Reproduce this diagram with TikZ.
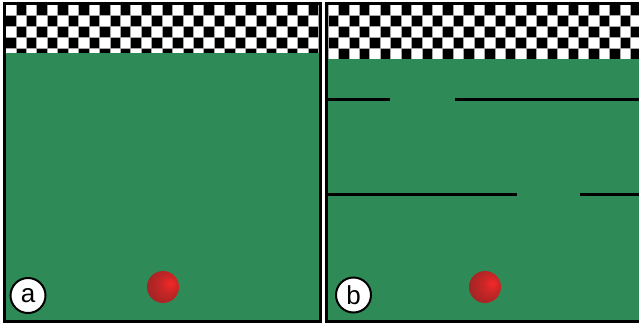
\documentclass[tikz,border=0pt]{standalone}
\usepackage{fontspec}
\setmainfont{Liberation Sans}
\usepackage{xcolor}
\usepackage{tikz}
\usetikzlibrary{positioning}
\definecolor{fieldgreen}{HTML}{2E8B57}
\definecolor{ballhi}{RGB}{245,40,40}
\definecolor{ballmid}{RGB}{200,38,38}
\definecolor{balllo}{RGB}{125,35,35}
\pgfdeclareradialshading{redball}{\pgfpoint{12bp}{6bp}}{%
  color(0bp)=(ballhi); color(14bp)=(ballmid); color(50bp)=(balllo); color(70bp)=(balllo)}
\tikzset{
  wall/.style={line width=3pt, black},
  panelframe/.style={line width=3pt, black},
  tag/.style={circle, draw=black, fill=white, line width=2pt, minimum size=35pt,
    inner sep=0pt, font=\fontsize{26}{26}\selectfont},
}
% draws a checker band in the box (#1,#2)--(#3,#4)
\newcommand{\checkerband}[4]{%
  \begin{scope}
    \clip (#1,#2) rectangle (#3,#4);
    \fill[white] (#1,#2) rectangle (#3,#4);
    \foreach \i in {0,...,31}{
      \foreach \j in {0,...,5}{
        \pgfmathtruncatemacro{\sqodd}{mod(\i+\j,2)}
        \ifnum\sqodd=1
          \fill[black] ({#1+\i*10.43},{#2+\j*11}) rectangle ++(10.43,11);
        \fi
        \draw[gray!70, line width=0.6pt] ({#1+\i*10.43},{#2+\j*11}) rectangle ++(10.43,11);
      }
    }
  \end{scope}}

\begin{document}
\begin{tikzpicture}[x=1pt, y=-1pt]
\useasboundingbox (0,0) rectangle (639,327);
\fill[white] (0,0) rectangle (639,327);
% panel a
\fill[fieldgreen] (4,4) rectangle (320.5,321);
\checkerband{5.5}{4.5}{319}{52.5}
\draw[panelframe] (4.5,2) -- (4.5,321) -- (320.5,321) -- (320.5,2);
\draw[panelframe] (3,3) -- (322,3);
\shade[shading=redball] (163,287) circle (16);
\node[tag] (taga) at (28,295.5) {a};
% panel b
\fill[fieldgreen] (326,4) rectangle (639,321);
\checkerband{328}{4.5}{639}{58.5}
\draw[panelframe] (326,2) -- (326,321) -- (641,321);
\draw[panelframe] (325,3) -- (639,3);
\draw[wall] (327,99) -- (390,99);
\draw[wall] (455,99) -- (639,99);
\draw[wall] (327,194) -- (517,194);
\draw[wall] (580,194) -- (639,194);
\shade[shading=redball] (485,287) circle (16);
\node[tag] (tagb) at (353.5,295) {b};
\end{tikzpicture}
\end{document}
